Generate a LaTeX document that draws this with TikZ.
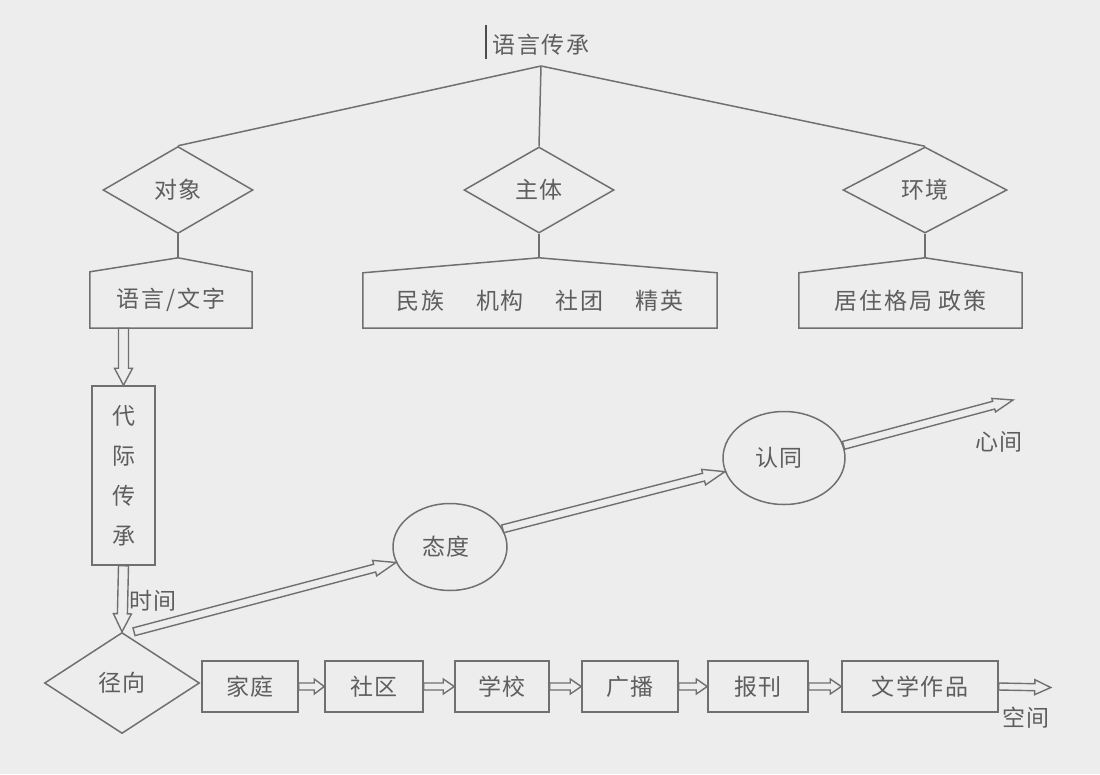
\documentclass[tikz,border=0pt]{standalone}
\usepackage{fontspec}
\newfontfamily\cjk[LetterSpace=8]{Noto Sans CJK SC}
\usetikzlibrary{shapes.geometric,calc}
\definecolor{bg}{HTML}{EDEDED}
\definecolor{lc}{HTML}{707070}
\definecolor{tc}{HTML}{5E5E5E}
\newcommand\twoarrow[5]{%
  \coordinate (hh) at ($(#2)!#5!(#1)$);
  \draw[arrowline] ($(#1)!#3!90:(#2)$) -- ($(hh)!#3!90:(#2)$) -- ($(hh)!#4!90:(#2)$) -- (#2)
    -- ($(hh)!#4!-90:(#2)$) -- ($(hh)!#3!-90:(#2)$) -- ($(#1)!#3!-90:(#2)$) -- cycle;
}
\tikzset{
  ln/.style={draw=lc, line width=1.5pt},
  txt/.style={text=tc, font=\cjk\fontsize{23}{27}\selectfont},
  dia/.style={shape=diamond, ln, inner sep=0pt, aspect=1.7, txt},
  box/.style={rectangle, ln, inner sep=0pt, txt},
  ell/.style={ellipse, ln, inner sep=0pt, txt},
  plain/.style={rectangle, inner sep=0pt, txt},
  arrowline/.style={draw=lc, line width=1.4pt, fill=bg, line join=miter},
}
\begin{document}
\begin{tikzpicture}[x=1pt,y=-1pt]
\fill[bg] (0,0) rectangle (1100,774);
\useasboundingbox (0,0) rectangle (1100,774);

% title
\node[plain] (title) at (541,45) {语言传承};
\draw[draw=black!70, line width=2.5pt] (486,25) -- (486,59);
\coordinate (apex) at (541,66);

% diamonds
\node[dia, minimum width=150pt, minimum height=87pt] (dA) at (178,190) {对象};
\node[dia, minimum width=150pt, minimum height=86pt] (dB) at (539,190) {主体};
\node[dia, minimum width=164pt, minimum height=86pt] (dC) at (925,190) {环境};

\draw[ln] (apex) -- (dA.north);
\draw[ln] (apex) -- (dB.north);
\draw[ln] (apex) -- (dC.north);

% pentagon boxes
\node[plain, minimum width=162pt, minimum height=56pt] (pA) at (171,300) {语言/文字};
\node[plain, minimum width=354pt, minimum height=55pt] (pB) at (540,300.5) {民族\hspace{32pt}机构\hspace{32pt}社团\hspace{32pt}精英};
\node[plain, minimum width=223pt, minimum height=55pt] (pC) at (910.5,300.5) {居住格局\hspace{6pt}政策};
\coordinate (apA) at ($(dA.south |- pA.north)+(0,-14)$);
\coordinate (apB) at ($(dB.south |- pB.north)+(0,-15)$);
\coordinate (apC) at ($(dC.south |- pC.north)+(0,-15)$);
\draw[ln] (pA.south west) -- (pA.north west) -- (apA) -- (pA.north east) -- (pA.south east) -- cycle;
\draw[ln] (pB.south west) -- (pB.north west) -- (apB) -- (pB.north east) -- (pB.south east) -- cycle;
\draw[ln] (pC.south west) -- (pC.north west) -- (apC) -- (pC.north east) -- (pC.south east) -- cycle;
\draw[ln] (dA.south) -- (apA);
\draw[ln] (dB.south) -- (apB);
\draw[ln] (dC.south) -- (apC);

% vertical box
\node[box, minimum width=63pt, minimum height=179pt, align=center,
      font=\cjk\fontsize{23}{40}\selectfont] (gen) at (123.5,475.5) {代\\际\\传\\承};

% radial diamond
\node[dia, minimum width=155pt, minimum height=101pt] (jx) at (122,683) {径向};

% ellipses
\node[ell, minimum width=114pt, minimum height=87pt] (tai) at (450,547) {\hspace{-8pt}态度};
\node[ell, minimum width=122pt, minimum height=93pt] (ren) at (784,458) {\hspace{-10pt}认同};

% bottom boxes
\node[box, minimum width=96pt, minimum height=51pt] (b1) at (250,686.5) {家庭};
\node[box, minimum width=98pt, minimum height=51pt] (b2) at (374,686.5) {社区};
\node[box, minimum width=94pt, minimum height=51pt] (b3) at (502,686.5) {学校};
\node[box, minimum width=96pt, minimum height=51pt] (b4) at (630,686.5) {广播};
\node[box, minimum width=100pt, minimum height=51pt] (b5) at (758,686.5) {报刊};
\node[box, minimum width=156pt, minimum height=51pt] (b6) at (920,686.5) {文学作品};

% labels
\node[plain] (lt) at (153,601) {时间};
\node[plain] (lx) at (999,442) {心间};
\node[plain] (lk) at (1026,718) {空间};

% arrows
\coordinate (a1) at (gen.north |- pA.south);
\twoarrow{a1}{gen.north}{5pt}{9pt}{17pt}
\twoarrow{gen.south}{jx.north}{5pt}{9pt}{18pt}
\coordinate (t1) at ($(jx.north)+(12,0)$);
\twoarrow{t1}{tai.196}{4pt}{8pt}{22pt}
\twoarrow{tai.19}{ren.193}{4pt}{8pt}{22pt}
\coordinate (c2) at (1013,400);
\twoarrow{ren.12}{c2}{4pt}{7pt}{20pt}
\twoarrow{b1.east}{b2.west}{3.5pt}{7.5pt}{10pt}
\twoarrow{b2.east}{b3.west}{3.5pt}{7.5pt}{11pt}
\twoarrow{b3.east}{b4.west}{3.5pt}{7.5pt}{11pt}
\twoarrow{b4.east}{b5.west}{3.5pt}{7.5pt}{11pt}
\twoarrow{b5.east}{b6.west}{3.5pt}{7.5pt}{11pt}
\coordinate (c3) at ($(b6.east)+(52,1)$);
\twoarrow{b6.east}{c3}{3.5pt}{7.5pt}{16pt}
\end{tikzpicture}
\end{document}
